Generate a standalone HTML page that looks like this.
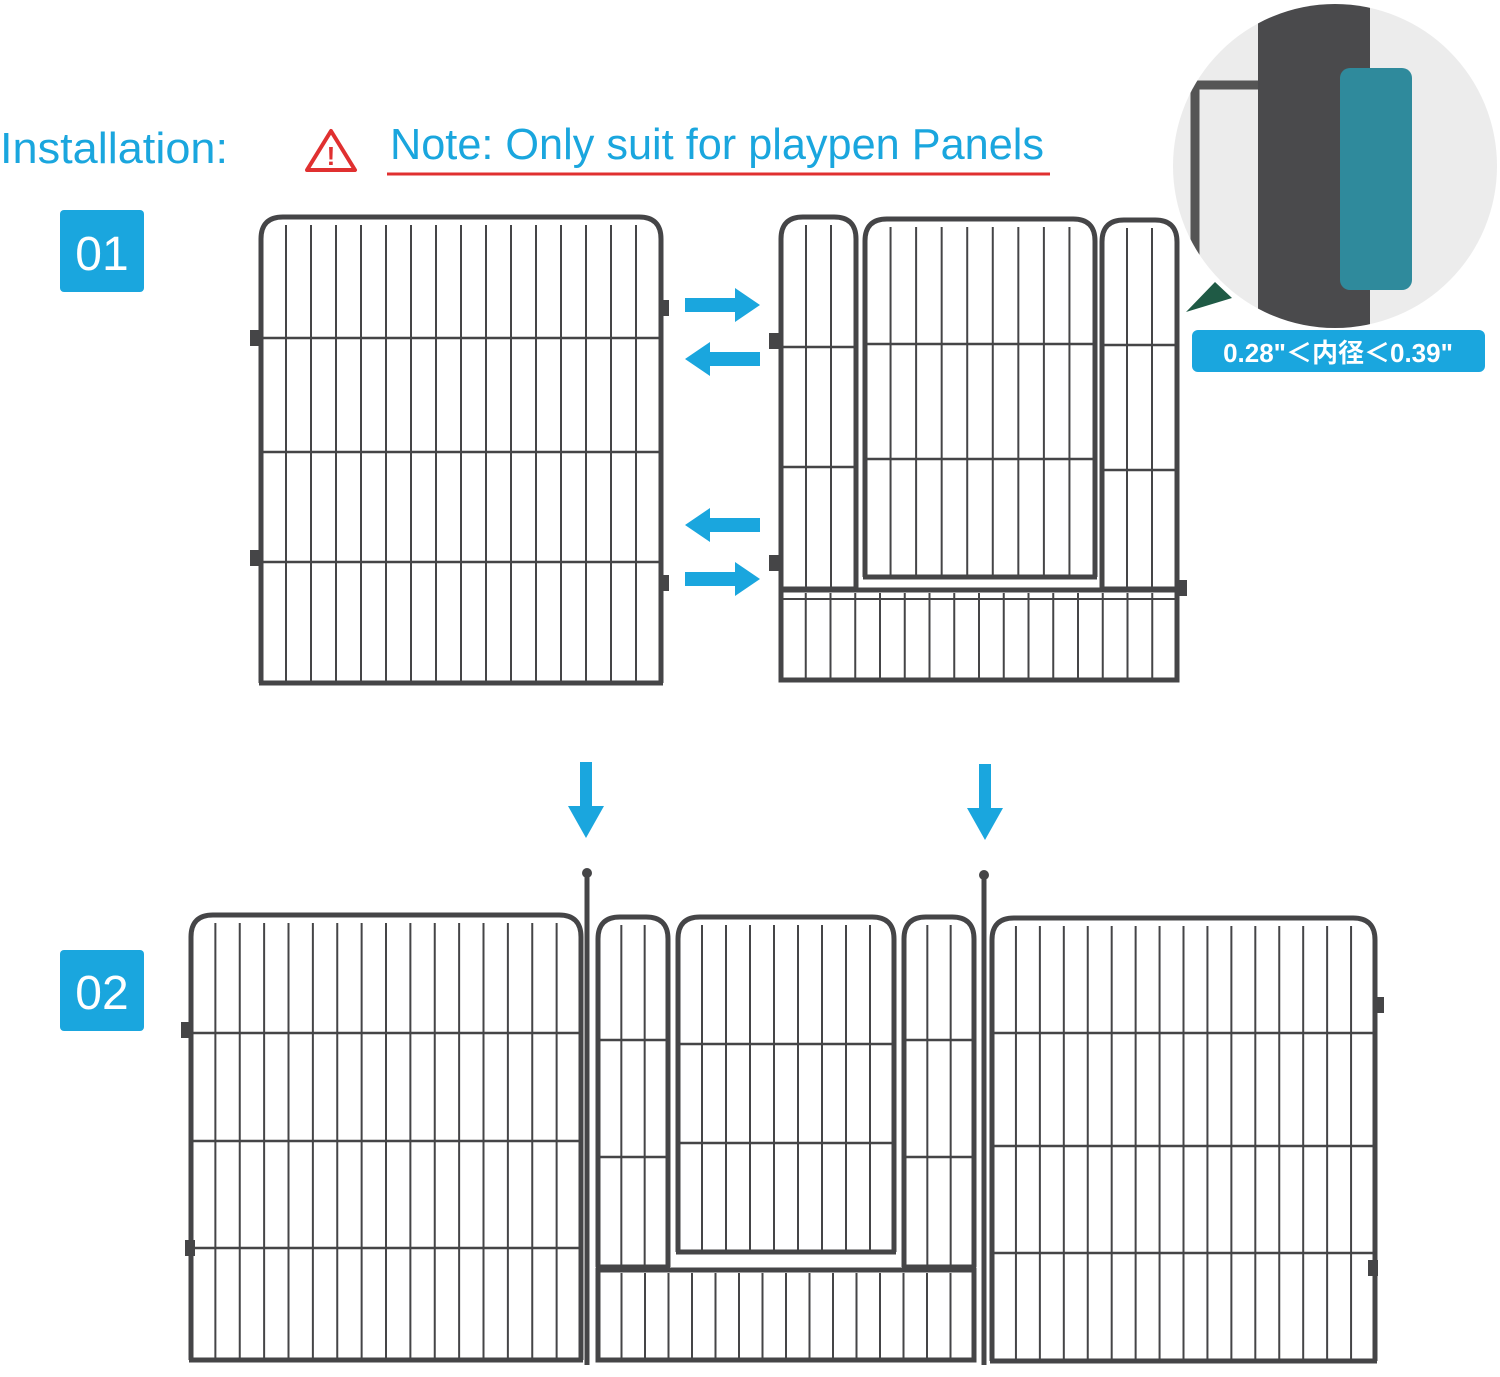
<!DOCTYPE html>
<html><head><meta charset="utf-8"><style>
html,body{margin:0;padding:0;background:#fff;}
body{width:1500px;height:1377px;position:relative;overflow:hidden;font-family:"Liberation Sans","Noto Sans CJK JP",sans-serif;}
svg{position:absolute;left:0;top:0;}
</style></head><body>
<svg id="s" width="1500" height="1377" viewBox="0 0 1500 1377" xmlns="http://www.w3.org/2000/svg">
<defs><clipPath id="cc"><circle cx="1335" cy="166" r="162"/></clipPath></defs>
<text x="0" y="163" font-size="44" fill="#1aa6de" font-family="Liberation Sans, sans-serif" textLength="228" lengthAdjust="spacingAndGlyphs">Installation:</text>
<g stroke="#e03030" stroke-width="4" fill="none" stroke-linejoin="round"><path d="M331 131 L355 170 L307 170 Z"/></g>
<text x="331" y="165" font-size="26" fill="#e03030" text-anchor="middle" font-weight="bold">!</text>
<text x="390" y="159" font-size="44" fill="#1aa6de" textLength="654" lengthAdjust="spacingAndGlyphs">Note: Only suit for playpen Panels</text>
<line x1="387" y1="174" x2="1050" y2="174" stroke="#e03030" stroke-width="3"/>
<rect x="60" y="210" width="84" height="82" rx="4" fill="#1aa6de"/>
<text x="102" y="270" font-size="48" fill="#fff" text-anchor="middle">01</text>
<rect x="60" y="950" width="84" height="81" rx="4" fill="#1aa6de"/>
<text x="102" y="1009" font-size="48" fill="#fff" text-anchor="middle">02</text>
<g id="p"></g>
<g fill="#1aa6de">
<path d="M685 298 H735 V288 L760 305 L735 322 V312 H685Z"/>
<path d="M760 352 H710 V342 L685 359 L710 376 V366 H760Z"/>
<path d="M760 518 H710 V508 L685 525 L710 542 V532 H760Z"/>
<path d="M685 572 H735 V562 L760 579 L735 596 V586 H685Z"/>
<path d="M580 762 H592 V806 H604 L586 838 L568 806 H580Z"/>
<path d="M979 764 H991 V808 H1003 L985 840 L967 808 H979Z"/>
</g>
<circle cx="1335" cy="166" r="162" fill="#ececec"/>
<path d="M1186 312 L1215 282 L1232 298 Z" fill="#1f5a45"/>
<g clip-path="url(#cc)">
<path d="M1195 330 V85 H1260" stroke="#555" stroke-width="9" fill="none"/>
<rect x="1258" y="0" width="112" height="330" fill="#4a4a4c"/>
<rect x="1340" y="68" width="72" height="222" rx="10" fill="#2f8a9c"/>
</g>
<rect x="1192" y="330" width="293" height="42" rx="6" fill="#1aa6de"/>
<text x="1338" y="362" font-size="26" fill="#fff" font-weight="bold" text-anchor="middle" font-family="Liberation Sans, Noto Sans CJK JP, sans-serif">0.28"＜内径＜0.39"</text>
</svg>
<script>
var g=document.getElementById('p'),NS='http://www.w3.org/2000/svg';
function el(t,a){var e=document.createElementNS(NS,t);for(var k in a)e.setAttribute(k,a[k]);g.appendChild(e);return e;}
var C='#454547';
function panel(x,y,w,h,hs,n,sw){
 var r=22;sw=sw||5;
 el('path',{d:'M'+x+' '+(y+h)+' V'+(y+r)+' Q'+x+' '+y+' '+(x+r)+' '+y+' H'+(x+w-r)+' Q'+(x+w)+' '+y+' '+(x+w)+' '+(y+r)+' V'+(y+h),stroke:C,'stroke-width':sw,fill:'none'});
 el('line',{x1:x-2,y1:y+h,x2:x+w+2,y2:y+h,stroke:C,'stroke-width':sw});
 for(var i=1;i<n;i++){var xx=x+w*i/n;el('line',{x1:xx,y1:y+8,x2:xx,y2:y+h,stroke:C,'stroke-width':2});}
 hs.forEach(function(hy){el('line',{x1:x,y1:y+hy,x2:x+w,y2:y+hy,stroke:C,'stroke-width':2.5});});
}
function tab(x,y){el('rect',{x:x,y:y,width:10,height:16,fill:C});}
panel(261,217,400,466,[121,235,345],16);
tab(250,330);tab(250,550);tab(659,300);tab(659,575);
panel(781,217,75,372,[130,250],3);
panel(865,219,230,358,[125,240],9);
panel(1102,220,75,369,[125,250],3);
el('rect',{x:781,y:590,width:396,height:90,fill:'none',stroke:C,'stroke-width':5});
for(var i=1;i<16;i++){var xx=781+396*i/16;el('line',{x1:xx,y1:593,x2:xx,y2:678,stroke:C,'stroke-width':2});}
el('line',{x1:781,y1:599,x2:1177,y2:599,stroke:C,'stroke-width':2});
tab(769,333);tab(769,555);tab(1177,580);
panel(191,915,390,445,[118,226,333],16);
tab(181,1022);tab(185,1240);
panel(598,917,70,350,[123,240],3);
panel(678,917,216,335,[127,226],9);
panel(904,917,70,350,[123,240],3);
el('rect',{x:598,y:1270,width:376,height:90,fill:'none',stroke:C,'stroke-width':5});
for(var i=1;i<16;i++){var xx=598+376*i/16;el('line',{x1:xx,y1:1273,x2:xx,y2:1358,stroke:C,'stroke-width':2});}
el('line',{x1:587,y1:875,x2:587,y2:1365,stroke:C,'stroke-width':5});el('circle',{cx:587,cy:873,r:5,fill:C});
el('line',{x1:984,y1:877,x2:984,y2:1365,stroke:C,'stroke-width':5});el('circle',{cx:984,cy:875,r:5,fill:C});
panel(992,918,383,443,[115,228,335],16);
tab(1374,997);tab(1368,1260);
</script>
</body></html>
